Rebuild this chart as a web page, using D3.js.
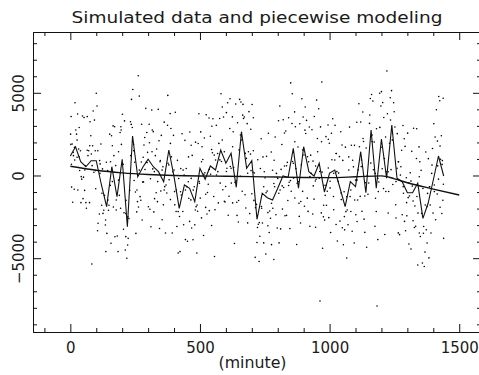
<!doctype html>
<html lang="en">
<head>
<meta charset="utf-8">
<title>Simulated data and piecewise modeling</title>
<script src="https://cdn.jsdelivr.net/npm/d3@7"></script>
<style>
    body { margin: 0; background: #fff; }
    svg text { font-family: "DejaVu Sans", sans-serif; font-weight: 400; fill: #1a1a1a; }
    .domain, .tick line { stroke: #111; }
</style>
</head>
<body>
<svg></svg>
<script>
    var width = 479;
    var height = 375;

    // bin means, one every 20 minutes
    var binMinutes = d3.range(0, 1441, 20);
    var binMeans = [1180, 1740, 830, 530, 895, 895, -574, -1886, 532, -1282,
        979, -3096, 2388, -73, 514, 979, 532, 230, -375, 1542,
        -73, -1983, -574, -774, -1584, 435, -230, 574, 333, 1542,
        738, 1342, -713, 2648, 435, 895, -2648, -1076, -1342, -1481,
        -774, -30, -109, 1644, -774, 1741, 230, -30, 738, -998,
        151, 333, -756, -1886, -375, -677, 1439, -1040, 2751, -774,
        2207, -169, 3053, -169, -375, -1040, -1040, -472, -2588, -1681,
        -272, 1179, -30];

    // piecewise model
    var modelMinutes = [0, 100, 200, 300, 400, 500, 600, 700, 800, 900, 1000, 1100, 1200, 1250, 1300, 1400, 1500];
    var modelValues = [560, 320, 160, 60, 0, -30, -45, -65, -95, -120, -130, -80, -20, -200, -440, -820, -1180];

    // simulated samples (one line per 20-minute bin)
    var dotMinutes = [
        1, 3, 5, 7, 9, 11,
        18, 21, 28, 15, 29, 12, 24, 26, 16,
        34, 41, 47, 36, 44, 39, 32, 49,
        60, 62, 65, 53, 57, 68, 55, 51,
        76, 74, 83, 79, 86, 88, 71, 81,
        100, 103, 93, 105, 107, 96, 91, 98,
        112, 118, 126, 115, 121, 124, 129, 113,
        135, 137, 132, 144, 141, 147, 139, 149,
        157, 152, 162, 165, 154, 168, 159, 166,
        172, 181, 184, 177, 186, 175, 189, 171,
        195, 196, 194, 207, 205, 201, 192, 209,
        212, 218, 223, 215, 226, 221, 229, 214,
        232, 236, 244, 241, 248, 239, 246, 233,
        262, 266, 259, 269, 253, 256, 263, 251,
        275, 277, 284, 272, 287, 279, 281, 288,
        291, 301, 307, 295, 298, 304, 293, 309,
        314, 316, 320, 322, 325, 311, 328, 318,
        333, 336, 339, 331, 344, 347, 342, 349,
        351, 354, 357, 359, 362, 364, 367, 369,
        372, 375, 376, 380, 381, 385, 386, 388,
        390, 393, 398, 400, 403, 405, 408, 409,
        411, 413, 416, 418, 421, 423, 426, 428,
        431, 434, 437, 439, 442, 444, 447, 449,
        452, 455, 456, 460, 461, 465, 466, 468,
        470, 473, 478, 480, 483, 485, 488, 489,
        491, 493, 496, 498, 501, 503, 506, 508,
        511, 514, 517, 519, 522, 524, 527, 529,
        532, 535, 536, 540, 541, 545, 546, 548,
        550, 553, 558, 560, 563, 556, 568, 569,
        571, 573, 576, 578, 581, 583, 586, 588,
        591, 594, 597, 599, 602, 604, 607, 609,
        612, 615, 616, 620, 621, 625, 626, 628,
        630, 633, 638, 640, 643, 645, 648, 649,
        651, 653, 656, 658, 661, 663, 666, 668,
        671, 674, 677, 679, 682, 684, 687, 689,
        692, 695, 696, 700, 701, 705, 706, 708,
        710, 713, 718, 720, 723, 725, 728, 729,
        731, 733, 736, 738, 741, 743, 746, 748,
        751, 754, 757, 759, 762, 764, 767, 769,
        772, 775, 776, 780, 781, 785, 786, 788,
        790, 793, 798, 800, 803, 805, 808, 809,
        811, 813, 816, 818, 821, 823, 826, 828,
        831, 834, 837, 839, 842, 844, 847, 849,
        852, 855, 856, 860, 861, 865, 866, 868, 850,
        870, 873, 878, 880, 883, 885, 888, 889,
        891, 893, 896, 898, 901, 903, 906, 908,
        911, 914, 917, 919, 922, 924, 927, 929,
        932, 935, 936, 940, 941, 945, 946, 948,
        950, 953, 958, 960, 963, 965, 968, 969, 970,
        971, 973, 976, 978, 981, 983, 986, 988, 995,
        991, 994, 997, 999, 1002, 1004, 1007, 1009,
        1012, 1015, 1016, 1020, 1021, 1025, 1026, 1028,
        1030, 1033, 1038, 1040, 1043, 1045, 1048, 1049,
        1051, 1053, 1056, 1058, 1061, 1063, 1066, 1068,
        1071, 1074, 1077, 1079, 1082, 1084, 1087, 1089,
        1092, 1095, 1096, 1100, 1101, 1105, 1106, 1108,
        1110, 1113, 1118, 1120, 1123, 1125, 1128, 1129,
        1131, 1133, 1136, 1138, 1141, 1143, 1146, 1148,
        1151, 1154, 1157, 1159, 1162, 1164, 1167, 1169,
        1172, 1175, 1176, 1180, 1181, 1183, 1186, 1188,
        1190, 1193, 1198, 1200, 1203, 1205, 1208, 1209,
        1211, 1213, 1216, 1218, 1221, 1223, 1226, 1228,
        1231, 1234, 1237, 1239, 1242, 1244, 1247, 1249,
        1252, 1255, 1256, 1260, 1261, 1265, 1266, 1268,
        1270, 1273, 1278, 1280, 1283, 1285, 1288, 1289,
        1291, 1293, 1296, 1298, 1301, 1303, 1306, 1308,
        1311, 1314, 1317, 1319, 1322, 1324, 1327, 1329,
        1332, 1335, 1336, 1340, 1341, 1345, 1346, 1348,
        1350, 1353, 1358, 1360, 1363, 1365, 1368, 1369,
        1371, 1373, 1376, 1378, 1381, 1383, 1386, 1388,
        1391, 1394, 1397, 1399, 1402, 1404, 1407, 1409,
        1412, 1415, 1416, 1420, 1421, 1425, 1426, 1428,
        1431, 1433, 1435, 1437, 1438, 1440,
        // samples sitting close to the bin means
        2, 4, 17, 26, 34, 42, 56, 65, 75, 84, 97, 106, 114, 122, 136, 145,
        155, 162, 177, 186, 197, 204, 214, 222, 235, 244, 257, 266, 274, 282,
        296, 305, 315, 324, 337, 346, 354, 362, 377, 386, 395, 402, 416, 425,
        435, 444, 457, 466, 474, 482, 497, 506, 515, 522, 536, 545, 555, 564,
        577, 586, 594, 602, 617, 626, 635, 642, 656, 665, 675, 684, 697, 706,
        714, 722, 737, 746, 755, 762, 776, 785, 795, 804, 817, 826, 834, 842,
        857, 866, 875, 882, 896, 905, 915, 924, 937, 946, 954, 962, 977, 986,
        995, 1002, 1016, 1025, 1035, 1044, 1057, 1066, 1074, 1082, 1097, 1106,
        1115, 1122, 1136, 1145, 1155, 1164, 1177, 1186, 1194, 1202, 1217, 1226,
        1235, 1242, 1256, 1265, 1275, 1284, 1297, 1306, 1314, 1322, 1337, 1346,
        1355, 1362, 1376, 1385, 1395, 1404, 1417, 1426, 1434, 1439
    ];
    var dotValues = [
        2500, 3560, -700, 1900, -1620, 1400,
        4400, 2750, 3720, -830, -880, 1200, 2500, 1100, 1700,
        2900, -1640, 3600, 300, -220, 1500, 1600, -1400,
        -1640, -1980, 3560, 3500, 600, 1200, -900, -100,
        3250, -1640, -5350, 2400, 1800, 3900, 1500, 1300,
        4970, 4200, 3350, -3340, -2890, 1500, 200, -800,
        -2330, 1900, -2290, 700, -1800, 400, -2100, 900,
        -2990, -4600, -1200, 300, -3500, -2100, 800, -1800,
        -4100, 2500, 1800, 3000, -600, 1200, 2400, -1900,
        -3700, -3660, -4600, -2090, 1440, 600, -1200, 2950,
        2950, 2750, -1980, -2250, -3250, 3700, 2600, 3300,
        -4500, -5000, -3800, -1500, -2600, -4200, -900, -2300,
        3250, 4600, 1500, 5200, 800, 2900, -300, 1200,
        6030, 4800, -1580, -1280, -3500, -2200, -1900, -1000,
        3100, -2690, 1840, -1500, 2300, -400, 1100, 360,
        4060, -1890, -2040, 2600, 1400, 3100, 800, -200,
        3960, 2750, 2650, -2200, -1400, -3100, 1200, 400,
        1600, -1580, 4000, -1040, -3200, 900, 2100, -940,
        2425, -2675, 525, -1775, 3225, -675, -3475, -575,
        -1058, 3042, 4842, 642, -258, 3742, -1458, 2842,
        1127, -3473, 2427, 327, -1773, 3827, -2173, -873,
        -3083, 917, -4683, -183, -2483, -4600, 417, -1183,
        2526, -2174, -2974, 26, 2126, -3874, 426, -674,
        -3974, -374, 1126, -2774, 2626, -1474, 1826, -3174,
        1216, -3884, -684, -2984, 2016, -1884, -4684, -1784,
        -2165, 1935, 3735, -465, -1365, 2635, -2565, 1735,
        970, -3630, 2270, 170, -1930, 3670, -2330, -1030,
        -526, 3474, -2126, 2374, 74, -3026, 2974, 1374,
        3433, -1267, -2067, 933, 3033, -4900, 1333, 233,
        -1658, 1942, 3442, -458, 4942, 842, 4142, -858,
        3538, -1562, -1600, -662, 3800, 438, 4400, -2400,
        -1258, 2842, 4642, 442, -458, 3542, -1658, 2642,
        487, -4113, 4320, -313, -2413, 3187, -2813, -1513,
        1548, 4600, -52, 4448, 2148, -952, 4300, 3448,
        3535, -1165, -1965, 1035, 3135, -2865, 1435, 3860,
        -2305, 1295, 2795, -1105, 4295, 195, 3495, -1505,
        152, -4948, -1748, -4048, 952, -2948, -5200, -2848,
        -3676, 424, 2224, -1976, -2876, 1124, -4076, 224,
        -142, -4742, 1158, -942, -3042, 2558, -3442, -2142,
        -2581, 1419, -4181, 319, -1981, -5081, 919, -681,
        2326, -2374, -3174, -174, 3310, -4074, 4200, -874,
        -3230, 370, 1870, -2030, 3370, -730, 2570, -2430,
        2691, -2409, 791, -1509, 3491, -409, -3209, -309,
        -956, 3144, 4944, 744, -156, 3844, -1356, 2944, 5600,
        426, -4174, 1726, -374, -2474, 3126, -2874, -1574,
        641, 4641, -959, 3541, 1241, -1859, 4141, 2541,
        3330, -1370, -2170, 830, 2930, -3070, 1230, 130,
        2770, -2330, 870, -1430, 3570, -330, -3130, -230,
        4560, 2238, 4038, -162, -7590, 2938, -2262, 2038, 5650,
        202, -4398, -2500, -598, -2698, -1200, 2350, -1798, 2190,
        -949, 3051, -2549, 1951, -349, -3449, 2551, 951,
        3433, -1267, -2067, 933, 3033, -2967, 1333, 233,
        -3956, -356, 1144, -2756, 2644, -1456, 1844, -3156,
        914, -4186, -986, -3286, 1714, -2186, -4986, -2086,
        -2975, 1125, 2925, -1275, -2175, 1825, -3375, 925,
        523, -4077, 1823, -277, -2377, 3223, -2777, -1477,
        339, 4339, -1261, 3239, 939, -2161, 3839, 2239,
        2060, -2640, -3440, -440, 1660, -4340, -40, -1140,
        -449, 3151, 4651, 751, 4900, 2051, 4500, 351,
        2026, -3074, 126, -2174, 2826, -7890, -3874, -974,
        -393, 4970, 4200, 5070, 407, 4407, -793, 3507,
        1031, -3569, 2331, 231, 6320, 3731, -2269, -969,
        1953, 4700, 353, 5130, 2553, -547, 4400, 3853,
        2931, -1769, -2569, 431, 2531, -3469, 831, -269,
        -3575, 25, 1525, -2375, 3025, -1075, 2225, -2775,
        1760, -3340, -140, -2440, 2560, -1340, -4140, -1240,
        160, -4440, 1460, -640, -2740, 2860, -3140, -1840,
        -3072, 1028, 2828, -5410, -2272, 1728, -3472, 828,
        -3688, 312, -5288, -788, -3088, -5500, -4630, -1788,
        1419, -3281, -4081, -1081, 1019, -4981, -681, -1781,
        -3472, 128, 1628, -2272, 3128, -972, 2328, -2672,
        3979, -1121, 2079, -221, 4779, 4520, -1921, 979,
        2400, -2300, 900, -1500, 4670, -3800,
        // samples sitting close to the bin means
        1880, 680, 940, 2140, 1130, -70, 330, 1530, 1795, 595, 295, 1495, 126, -1074, -2686, -1486,
        832, -368, -1482, -282, 1879, 679, -3696, -2496, 3088, 1888, -873, 327, 814, -386,
        779, 1979, 1432, 232, -370, 830, 325, -875, 742, 1942, 227, -973, -2183, -983,
        326, -874, -1374, -174, -884, -2084, -365, 835, 70, -1130, 374, 1574, 1233, 33,
        942, 2142, 1438, 238, 542, 1742, -413, -1613, 2448, 3648, 1335, 135, 295, 1495,
        -1948, -3148, -1876, -676, -1042, -2242, -1681, -481, 126, -1074, -630, 570, 591, -609,
        844, 2044, -474, -1674, 1541, 2741, 1130, -70, -630, 570, 1438, 238, -1798, -598,
        451, -749, 133, 1333, 144, -1056, -2486, -1286, 325, -875, -1477, -277,
        1739, 539, -1240, -40, 3651, 2451, -1374, -174, 2907, 1707, -969, 231,
        3353, 2153, -369, 831, 525, -675, -1640, -440, -340, -1540, -1272, -72,
        -2288, -3488, -1881, -681, 628, -572, 579, 1779, 670, -530
    ];

    var xMajor = [0, 500, 1000, 1500];
    var yMajor = [-5000, 0, 5000];
    var xMinor = d3.range(-100, 1501, 100).filter(function (d) { return d % 500 != 0; });
    var yMinor = d3.range(-9000, 8001, 1000).filter(function (d) { return d % 5000 != 0; });

    var plot = { left: 33, right: 481, top: 32, bottom: 332 };

    var svg = d3.select('svg').attr('width', width).attr('height', height);

    var xScale = d3.scaleLinear().domain([-144, 1584]).range([plot.left, plot.right]);
    var yScale = d3.scaleLinear().domain([-9462, 8676]).range([plot.bottom, plot.top]);

    // frame with inward ticks on all four sides
    function drawAxis(axisFn, scale, transform, major, minor, labels) {
        var g = svg.append('g').attr('transform', transform);
        g.append('g').call(axisFn(scale).tickValues(minor).tickSizeInner(-4).tickSizeOuter(0).tickFormat(''));
        var m = g.append('g').call(axisFn(scale).tickValues(major).tickSizeInner(-8).tickSizeOuter(0)
            .tickPadding(10.5).tickFormat(labels ? function (d) { return d < 0 ? '\u2212' + Math.abs(d) : d; } : ''));
        g.selectAll('text').attr('font-size', 15).attr('font-family', null);
        return m;
    }

    drawAxis(d3.axisBottom, xScale, 'translate(0,' + plot.bottom + ')', xMajor, xMinor, true);
    drawAxis(d3.axisTop, xScale, 'translate(0,' + plot.top + ')', xMajor, xMinor, false);
    drawAxis(d3.axisRight, yScale, 'translate(' + plot.right + ',0)', yMajor, yMinor, false);
    var yAx = drawAxis(d3.axisLeft, yScale, 'translate(' + plot.left + ',0)', yMajor, yMinor, true);

    // y labels read upward
    yAx.selectAll('.tick text')
        .attr('text-anchor', 'middle')
        .attr('x', 0)
        .attr('y', -9.5)
        .attr('dy', null)
        .attr('transform', 'rotate(-90)');

    svg.append('text')
        .attr('x', 257).attr('y', 23)
        .attr('text-anchor', 'middle')
        .attr('font-size', 15)
        .attr('textLength', 371).attr('lengthAdjust', 'spacingAndGlyphs')
        .text('Simulated data and piecewise modeling');

    svg.append('text')
        .attr('x', 252.5).attr('y', 368)
        .attr('text-anchor', 'middle')
        .attr('font-size', 15)
        .attr('textLength', 68).attr('lengthAdjust', 'spacingAndGlyphs')
        .text('(minute)');

    svg.selectAll('circle.dot')
        .data(d3.zip(dotMinutes, dotValues))
        .enter()
        .append('circle')
        .attr('class', 'dot')
        .attr('cx', function (d) { return xScale(d[0]); })
        .attr('cy', function (d) { return yScale(d[1]); })
        .attr('r', 0.8)
        .attr('fill', '#000');

    var binLine = d3.line()
        .x(function (d) { return xScale(d[0]); })
        .y(function (d) { return yScale(d[1]); });

    svg.append('path')
        .datum(d3.zip(binMinutes, binMeans))
        .attr('d', binLine)
        .attr('fill', 'none')
        .attr('stroke', '#111')
        .attr('stroke-width', 1.1);

    var modelLine = d3.line()
        .x(function (d) { return xScale(d[0]); })
        .y(function (d) { return yScale(d[1]); })
        .curve(d3.curveMonotoneX);

    svg.append('path')
        .datum(d3.zip(modelMinutes, modelValues))
        .attr('d', modelLine)
        .attr('fill', 'none')
        .attr('stroke', '#111')
        .attr('stroke-width', 1.4);
</script>
</body>
</html>
